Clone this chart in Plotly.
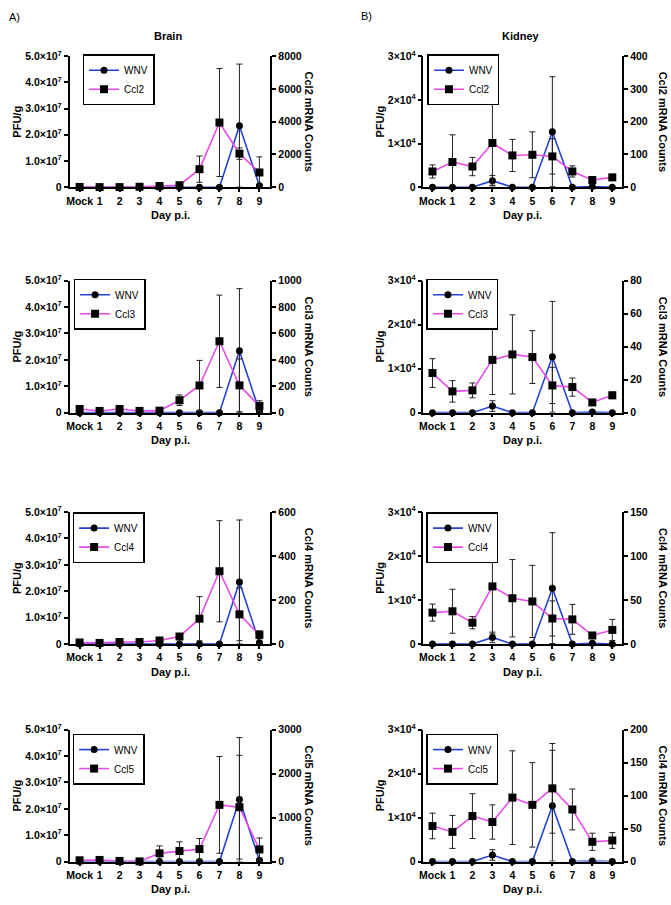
import plotly.graph_objects as go

# ---------------- data ----------------
days = ["Mock", "1", "2", "3", "4", "5", "6", "7", "8", "9"]

brain_wnv = [0, 0, 0, 0, 0, 0, 0, 0, 2.35e7, 5e5]
brain_wnv_err = [0, 0, 0, 0, 0, 0, 0, 0, 2.35e7, 5e5]

brain_ccl2 = [15, 5, 5, 25, 70, 120, 1100, 3950, 2050, 900]
brain_ccl2_err = [5, 5, 5, 10, 30, 40, 800, 3300, 350, 950]

brain_ccl3 = [28, 13, 28, 13, 15, 94, 206, 541, 207, 50]
brain_ccl3_err = [8, 5, 8, 5, 5, 40, 190, 350, 200, 40]

brain_ccl4 = [7, 5, 9, 9, 16, 34, 115, 331, 135, 42]
brain_ccl4_err = [3, 3, 3, 3, 5, 5, 100, 230, 120, 18]

brain_ccl5 = [30, 37, 15, 5, 187, 240, 285, 1290, 1237, 277]
brain_ccl5_err = [15, 25, 10, 5, 170, 210, 240, 1100, 1180, 260]

kidney_wnv = [0, 0, 0, 1500, 0, 0, 12700, 0, 150, 0]
kidney_wnv_err = [0, 0, 0, 1200, 0, 0, 12600, 0, 100, 0]

kidney_ccl2 = [48, 77, 63, 135, 97, 99, 94, 48, 22, 30]
kidney_ccl2_err = [20, 83, 28, 129, 49, 70, 54, 17, 4, 8]

kidney_ccl3 = [24, 12.9, 13.5, 32, 35.3, 33.7, 16.5, 15.5, 6.2, 10.5]
kidney_ccl3_err = [8.7, 6.5, 4.5, 21, 24, 16, 11, 5.5, 1.5, 2]

kidney_ccl4 = [35.7, 37.2, 24.2, 65.5, 52, 48.4, 29, 28, 9.7, 16]
kidney_ccl4_err = [9.7, 25, 7, 54, 44, 41, 20, 17, 3, 12]

kidney_ccl5 = [54, 45, 69, 60, 97, 86, 111, 79, 30, 32]
kidney_ccl5_err = [19.4, 25, 34, 26, 71, 64, 68, 31, 13, 12]

brain_pfu_ticks = [0, 1e7, 2e7, 3e7, 4e7, 5e7]
brain_pfu_labels = ["0", "1.0×10<sup>7</sup>", "2.0×10<sup>7</sup>", "3.0×10<sup>7</sup>",
                    "4.0×10<sup>7</sup>", "5.0×10<sup>7</sup>"]
kidney_pfu_ticks = [0, 1e4, 2e4, 3e4]
kidney_pfu_labels = ["0", "1×10<sup>4</sup>", "2×10<sup>4</sup>", "3×10<sup>4</sup>"]

# ---------------- styling ----------------
W, H = 671, 905
FONT = "Liberation Sans, Arial, sans-serif"
BLUE = "#2443d6"
MAGENTA = "#e84ce6"

row_px = [(49, 182), (277, 411), (512, 646), (733, 867)]
col_px = [(66, 268), (422, 622)]
col_xrange = [[-0.5, 9.55], [-0.45, 9.5]]
legend_px = [[(79, 47), (426, 47)], [(70, 275), (425, 275)],
             [(69, 512), (425, 512)], [(69, 737), (425, 737)]]
left_title_px = [13, 378]
right_title_px = [307, 663]

panels = [
    dict(row=0, col=0, wnv=brain_wnv, wnv_err=brain_wnv_err, ccl=brain_ccl2, ccl_err=brain_ccl2_err,
         name="Ccl2", rtitle="Ccl2 mRNA Counts", rmax=8000, rdtick=2000),
    dict(row=1, col=0, wnv=brain_wnv, wnv_err=brain_wnv_err, ccl=brain_ccl3, ccl_err=brain_ccl3_err,
         name="Ccl3", rtitle="Ccl3 mRNA Counts", rmax=1000, rdtick=200),
    dict(row=2, col=0, wnv=brain_wnv, wnv_err=brain_wnv_err, ccl=brain_ccl4, ccl_err=brain_ccl4_err,
         name="Ccl4", rtitle="Ccl4 mRNA Counts", rmax=600, rdtick=200),
    dict(row=3, col=0, wnv=brain_wnv, wnv_err=brain_wnv_err, ccl=brain_ccl5, ccl_err=brain_ccl5_err,
         name="Ccl5", rtitle="Ccl5 mRNA Counts", rmax=3000, rdtick=1000),
    dict(row=0, col=1, wnv=kidney_wnv, wnv_err=kidney_wnv_err, ccl=kidney_ccl2, ccl_err=kidney_ccl2_err,
         name="Ccl2", rtitle="Ccl2 mRNA Counts", rmax=400, rdtick=100),
    dict(row=1, col=1, wnv=kidney_wnv, wnv_err=kidney_wnv_err, ccl=kidney_ccl3, ccl_err=kidney_ccl3_err,
         name="Ccl3", rtitle="Ccl3 mRNA Counts", rmax=80, rdtick=20),
    dict(row=2, col=1, wnv=kidney_wnv, wnv_err=kidney_wnv_err, ccl=kidney_ccl4, ccl_err=kidney_ccl4_err,
         name="Ccl4", rtitle="Ccl4 mRNA Counts", rmax=150, rdtick=50),
    dict(row=3, col=1, wnv=kidney_wnv, wnv_err=kidney_wnv_err, ccl=kidney_ccl5, ccl_err=kidney_ccl5_err,
         name="Ccl5", rtitle="Ccl4 mRNA Counts", rmax=200, rdtick=50),
]

tickfont = dict(family=FONT, size=10.5, color="black", weight="bold")
axis_common = dict(showline=True, linecolor="black", linewidth=1.6, ticks="outside",
                   ticklen=4, tickwidth=1.6, tickcolor="black", showgrid=False,
                   zeroline=False, tickfont=tickfont, fixedrange=True)

fig = go.Figure()
layout = dict(width=W, height=H, margin=dict(l=0, r=0, t=0, b=0),
              paper_bgcolor="white", plot_bgcolor="white", showlegend=True)
annotations = []


def ann(text, xpx, ypx, size=11, bold=True, angle=0, xanchor="center"):
    annotations.append(dict(
        text=text, x=xpx / W, y=1 - ypx / H, xref="paper", yref="paper",
        showarrow=False, textangle=angle, xanchor=xanchor, yanchor="middle",
        font=dict(family=FONT, size=size, color="black", weight="bold" if bold else "normal")))


for p, pan in enumerate(panels):
    r, c = pan["row"], pan["col"]
    xkey = "xaxis" if p == 0 else f"xaxis{p + 1}"
    xid = "x" if p == 0 else f"x{p + 1}"
    yl, yr = 2 * p + 1, 2 * p + 2
    ylkey = "yaxis" if yl == 1 else f"yaxis{yl}"
    ylid = "y" if yl == 1 else f"y{yl}"
    yrkey, yrid = f"yaxis{yr}", f"y{yr}"
    legkey = "legend" if p == 0 else f"legend{p + 1}"

    fig.add_trace(go.Scatter(
        x=days, y=pan["wnv"], name="WNV", mode="lines+markers",
        error_y=dict(type="data", array=pan["wnv_err"], visible=True,
                     color="#222222", thickness=1, width=3),
        line=dict(color=BLUE, width=1.6),
        marker=dict(symbol="circle", size=7, color="black"),
        xaxis=xid, yaxis=ylid, legend=legkey, cliponaxis=False))
    fig.add_trace(go.Scatter(
        x=days, y=pan["ccl"], name=pan["name"], mode="lines+markers",
        error_y=dict(type="data", array=pan["ccl_err"], visible=True,
                     color="#222222", thickness=1, width=3),
        line=dict(color=MAGENTA, width=1.6),
        marker=dict(symbol="square", size=8, color="black"),
        xaxis=xid, yaxis=yrid, legend=legkey, cliponaxis=False))

    x0, x1 = col_px[c]
    t, b = row_px[r]
    layout[xkey] = dict(axis_common, domain=[x0 / W, x1 / W], anchor=ylid,
                        type="category", range=col_xrange[c], ticklen=3)
    if c == 0:
        tv, tt = brain_pfu_ticks, brain_pfu_labels
        lmax = 5e7
    else:
        tv, tt = kidney_pfu_ticks, kidney_pfu_labels
        lmax = 3e4
    layout[ylkey] = dict(axis_common, domain=[1 - b / H, 1 - t / H], anchor=xid,
                         range=[0, lmax], tickmode="array", tickvals=tv, ticktext=tt)
    layout[yrkey] = dict(axis_common, overlaying=ylid, side="right", anchor=xid,
                         range=[0, pan["rmax"]], tickmode="linear", tick0=0,
                         dtick=pan["rdtick"])

    lx, ly = legend_px[r][c]
    layout[legkey] = dict(x=lx / W, y=1 - ly / H, xanchor="left", yanchor="top",
                          bordercolor="black", borderwidth=1.5, bgcolor="white",
                          font=dict(family=FONT, size=10, color="black"),
                          itemwidth=30, tracegroupgap=0)

    cx = (x0 + x1) / 2
    cy = (t + b) / 2
    ann("PFU/g", left_title_px[c], cy, size=11, angle=-90)
    ann(pan["rtitle"], right_title_px[c], cy, size=11, angle=90)
    ann("Day p.i.", cx, b + 28, size=11)

ann("Brain", 165, 28, size=11)
ann("Kidney", 520, 28, size=11)
ann("A)", 3, 9, size=11, bold=False, xanchor="left")
ann("B)", 357, 8, size=11, bold=False, xanchor="left")

layout["annotations"] = annotations
fig.update_layout(**layout)
fig.write_html("out.html",
               config={"displayModeBar": False},
               post_script="document.body.style.margin='0';document.body.style.overflow='hidden';")
